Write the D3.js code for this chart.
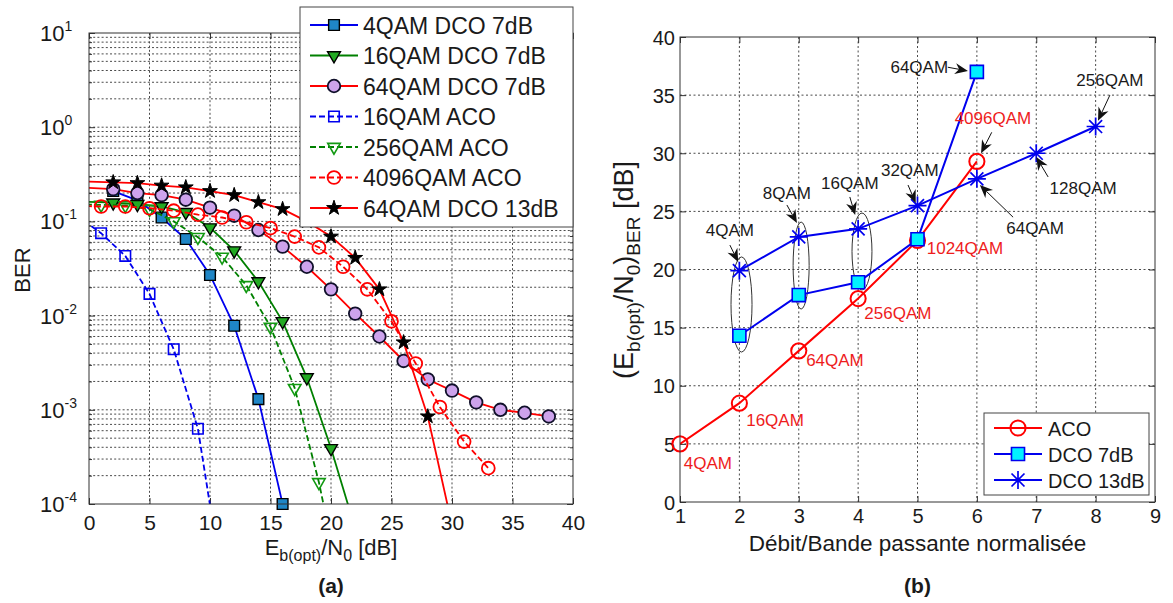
<!DOCTYPE html>
<html><head><meta charset="utf-8">
<script src="https://cdn.jsdelivr.net/npm/d3@7"></script>
<style>
body{margin:0;background:#fff}
svg{font-family:"Liberation Sans",Arial,sans-serif}
</style>
</head><body>
<svg id="c" width="1173" height="603"></svg>
<script>
// ---------------- Panel (a) data ----------------
const labelsA = ["4QAM DCO 7dB","16QAM DCO 7dB","64QAM DCO 7dB","16QAM ACO","256QAM ACO","4096QAM ACO","64QAM DCO 13dB"];
const x4qamDco = [2,4,6,8,10,12,14,16];
const y4qamDco = [0.21,0.167,0.11,0.065,0.027,0.0078,0.0013,0.0001];
const x16qamDco = [-2,2,4,6,8,10,12,14,16,18,20,22];
const y16qamDco = [0.165,0.158,0.152,0.144,0.125,0.086,0.049,0.023,0.0087,0.0022,0.00039,0.000055];
const x64qamDco = [-2,2,4,6,8,10,12,14,16,18,20,22,24,26,28,30,32,34,36,38];
const y64qamDco = [0.235,0.22,0.2,0.19,0.17,0.14,0.115,0.081,0.054,0.033,0.019,0.0105,0.006,0.0033,0.0021,0.0016,0.0012,0.001,0.00093,0.00085];
const x16qamAco = [-1,1,3,5,7,9,11];
const y16qamAco = [0.115,0.075,0.043,0.017,0.0044,0.00063,0.000015];
const x256qamAco = [-1,1,3,5,7,9,11,13,15,17,19,21];
const y256qamAco = [0.152,0.15,0.148,0.135,0.1,0.068,0.042,0.021,0.0076,0.0017,0.00017,0.00001];
const x4096qamAco = [-1,1,3,5,7,9,11,13,15,17,19,21,23,25,27,29,31,33];
const y4096qamAco = [0.146,0.144,0.144,0.138,0.13,0.118,0.11,0.098,0.085,0.069,0.053,0.033,0.019,0.0087,0.0031,0.00107,0.00046,0.00024];
const x64qamDco13 = [-2,2,4,6,8,10,12,14,16,18,20,22,24,26,28,30];
const y64qamDco13 = [0.27,0.26,0.255,0.24,0.23,0.21,0.19,0.16,0.135,0.1,0.069,0.041,0.019,0.0052,0.00085,0.00006];
const xTicksA = [0,5,10,15,20,25,30,35,40];
const yTickExpA = [-4,-3,-2,-1,0,1];

// ---------------- Panel (b) data ----------------
const labelsB = ["ACO","DCO 7dB","DCO 13dB"];
const xAco = [1,2,3,4,5,6];
const yAco = [5,8.5,13,17.5,22.5,29.3];
const xDco7 = [2,3,4,5,6];
const yDco7 = [14.3,17.8,18.9,22.6,37];
const xDco13 = [2,3,4,5,6,7,8];
const yDco13 = [19.9,22.8,23.5,25.5,27.8,30,32.3];
const xTicksB = [1,2,3,4,5,6,7,8,9];
const yTicksB = [0,5,10,15,20,25,30,35,40];
// annotations (data coordinates): text, colour key, text position, arrow from -> to
const annoText = ["64QAM","256QAM","4096QAM","128QAM","64QAM","32QAM","16QAM","8QAM","4QAM","1024QAM","256QAM","64QAM","16QAM","4QAM"];
const annoRed  = [0,0,1,0,0,0,0,0,0,1,1,1,1,1];
const annoPos  = [[5.03,37.4],[8.24,36.3],[6.27,33.0],[7.79,27.0],[6.98,23.57],[4.87,28.56],[3.86,27.44],[2.80,26.58],[1.84,23.4],[5.80,21.85],[4.67,16.26],[3.61,12.2],[2.60,7.05],[1.47,3.35]];
const annoArrow = [[5.51,37.4,5.85,37.08],[8.24,35.0,8.04,32.8],[6.25,31.8,6.07,30.0],[7.2,27.96,7.0,29.68],[6.61,24.5,6.05,27.27],[4.84,27.27,4.97,25.72],[3.86,26.24,3.95,24.69],[2.80,25.55,2.97,24.0],[1.84,22.1,1.98,20.65],null,null,null,null,null];
const ellipses = [[2.036,16.99,0.177,4.09],[3.04,20.34,0.135,3.74],[4.065,21.55,0.168,3.31]];

// ---------------- drawing ----------------
const svg = d3.select("#c");
const TXT = "#1a1a1a", AX = "#333", GRID = "#4a4a4a";
const BLUE = "#0000ee", GREEN = "#008000", RED = "#ff0000";

function zipXY(xs, ys){ return xs.map((x,i)=>({x, y: ys[i]})); }

function asteriskPath(r){
  const d = r*0.72;
  return `M${-r},0L${r},0M0,${-r}L0,${r}M${-d},${-d}L${d},${d}M${-d},${d}L${d},${-d}`;
}

function drawMarker(g, m, x, y){
  let p;
  if (m.type === "asterisk") {
    p = g.append("path").attr("d", asteriskPath(m.r)).attr("fill","none");
  } else {
    p = g.append("path").attr("d", d3.symbol(m.type, m.size)());
  }
  p.attr("transform", `translate(${x},${y})` + (m.rot ? ` rotate(${m.rot})` : ""))
   .attr("fill", m.fill || "none").attr("stroke", m.stroke).attr("stroke-width", m.sw || 1.5);
}

function arrow(g, x1, y1, x2, y2){
  const dx = x2-x1, dy = y2-y1, L = Math.hypot(dx,dy), ux = dx/L, uy = dy/L, px = -uy, py = ux;
  const hl = 13, hw = 5.5, notch = 4;
  const bx = x2-ux*hl, by = y2-uy*hl, nx = x2-ux*(hl-notch), ny = y2-uy*(hl-notch);
  g.append("line").attr("x1",x1).attr("y1",y1).attr("x2",nx).attr("y2",ny).attr("stroke","#111").attr("stroke-width",1);
  g.append("path").attr("d",`M${x2},${y2}L${bx+px*hw},${by+py*hw}L${nx},${ny}L${bx-px*hw},${by-py*hw}Z`).attr("fill","#111");
}

// ======== Panel (a) ========
const A = {x0:89, x1:573, y0:33, y1:504};
const xA = d3.scaleLinear().domain([0,40]).range([A.x0, A.x1]);
const yA = d3.scaleLog().domain([1e-4,10]).range([A.y1, A.y0]);
const gA = svg.append("g");
svg.append("defs").append("clipPath").attr("id","clipA").append("rect")
  .attr("x",A.x0).attr("y",A.y0).attr("width",A.x1-A.x0).attr("height",A.y1-A.y0);

// grid
const yGridA = yA.ticks().filter(v => v > 1.0001e-4 && v < 9.999);
gA.append("g").selectAll("line").data(yGridA).join("line")
  .attr("x1",A.x0).attr("x2",A.x1).attr("y1",d=>yA(d)).attr("y2",d=>yA(d))
  .attr("stroke",GRID).attr("stroke-width",1).attr("stroke-dasharray","2,2.2");
gA.append("g").selectAll("line").data(xTicksA.slice(1,-1)).join("line")
  .attr("x1",d=>xA(d)).attr("x2",d=>xA(d)).attr("y1",A.y0).attr("y2",A.y1)
  .attr("stroke",GRID).attr("stroke-width",1).attr("stroke-dasharray","2,2.2");

// ticks (inward)
const majorY = yTickExpA.map(e => Math.pow(10,e));
const minorY = yA.ticks().filter(v => !majorY.some(m => Math.abs(m-v)/m < 1e-6));
gA.append("g").attr("transform",`translate(0,${A.y1})`).call(d3.axisBottom(xA).tickValues(xTicksA).tickSize(-6).tickFormat(""))
  .call(g=>{g.select(".domain").remove(); g.selectAll("line").attr("stroke",AX);});
gA.append("g").attr("transform",`translate(0,${A.y0})`).call(d3.axisTop(xA).tickValues(xTicksA).tickSize(-6).tickFormat(""))
  .call(g=>{g.select(".domain").remove(); g.selectAll("line").attr("stroke",AX);});
gA.append("g").attr("transform",`translate(${A.x0},0)`).call(d3.axisLeft(yA).tickValues(majorY).tickSize(-6).tickFormat(""))
  .call(g=>{g.select(".domain").remove(); g.selectAll("line").attr("stroke",AX);});
gA.append("g").attr("transform",`translate(${A.x0},0)`).call(d3.axisLeft(yA).tickValues(minorY).tickSize(-3).tickFormat(""))
  .call(g=>{g.select(".domain").remove(); g.selectAll("line").attr("stroke",AX);});
gA.append("g").attr("transform",`translate(${A.x1},0)`).call(d3.axisRight(yA).tickValues(majorY).tickSize(-6).tickFormat(""))
  .call(g=>{g.select(".domain").remove(); g.selectAll("line").attr("stroke",AX);});
gA.append("g").attr("transform",`translate(${A.x1},0)`).call(d3.axisRight(yA).tickValues(minorY).tickSize(-3).tickFormat(""))
  .call(g=>{g.select(".domain").remove(); g.selectAll("line").attr("stroke",AX);});

// tick labels
gA.append("g").attr("transform",`translate(0,${A.y1})`).call(d3.axisBottom(xA).tickValues(xTicksA).tickSize(0).tickPadding(0))
  .call(g=>{g.select(".domain").remove(); g.selectAll("text").attr("y",26).attr("dy",null)
    .style("font-size","21px").style("font-family","'Liberation Sans',Arial,sans-serif").attr("fill",TXT);});
yTickExpA.forEach(e=>{
  const t = gA.append("text").attr("x",40).attr("y",yA(Math.pow(10,e))+8).attr("fill",TXT).style("font-size","22px");
  t.append("tspan").text("10");
  t.append("tspan").attr("dy",-10).style("font-size","14px").text(String(e));
});

// series
const seriesA = [
  {x:x4qamDco, y:y4qamDco, color:BLUE, dash:null, m:{type:d3.symbolSquare,size:115,fill:"#1f86c6",stroke:"#000",sw:1.4}},
  {x:x16qamDco, y:y16qamDco, color:GREEN, dash:null, m:{type:d3.symbolTriangle,size:72,rot:180,fill:"#22aa22",stroke:"#000",sw:1.4}},
  {x:x64qamDco, y:y64qamDco, color:RED, dash:null, m:{type:d3.symbolCircle,size:125,fill:"#cda3ec",stroke:"#10102a",sw:1.8}},
  {x:x16qamAco, y:y16qamAco, color:BLUE, dash:"6,3", m:{type:d3.symbolSquare,size:110,fill:"none",stroke:BLUE,sw:1.6}},
  {x:x256qamAco, y:y256qamAco, color:GREEN, dash:"6,3", m:{type:d3.symbolTriangle,size:68,rot:180,fill:"none",stroke:"#129a12",sw:1.6}},
  {x:x4096qamAco, y:y4096qamAco, color:RED, dash:"6,3", m:{type:d3.symbolCircle,size:130,fill:"none",stroke:RED,sw:1.8}},
  {x:x64qamDco13, y:y64qamDco13, color:RED, dash:null, m:{type:d3.symbolStar,size:68,fill:"#000",stroke:"#000",sw:1}}
];
const lineA = d3.line().x(d=>xA(d.x)).y(d=>yA(d.y));
const dataG = gA.append("g");
seriesA.forEach(s=>{
  const pts = zipXY(s.x, s.y);
  dataG.append("path").attr("d", lineA(pts)).attr("clip-path","url(#clipA)")
    .attr("fill","none").attr("stroke", s.color).attr("stroke-width",1.8)
    .attr("stroke-dasharray", s.dash);
  const mg = dataG.append("g");
  pts.filter(p => p.x >= 0 && p.x <= 40 && p.y >= 0.99e-4 && p.y <= 10)
     .forEach(p => drawMarker(mg, s.m, xA(p.x), yA(p.y)));
});

// box
gA.append("rect").attr("x",A.x0).attr("y",A.y0).attr("width",A.x1-A.x0).attr("height",A.y1-A.y0)
  .attr("fill","none").attr("stroke",AX).attr("stroke-width",1);

// legend (a)
const legA = gA.append("g");
legA.append("rect").attr("x",300).attr("y",7).attr("width",273).attr("height",220)
  .attr("fill","#fff").attr("stroke","#444").attr("stroke-width",1);
labelsA.forEach((lab,i)=>{
  const s = seriesA[i], yy = 25 + i*30.5;
  legA.append("line").attr("x1",310).attr("x2",358).attr("y1",yy).attr("y2",yy)
    .attr("stroke",s.color).attr("stroke-width",1.8).attr("stroke-dasharray",s.dash);
  drawMarker(legA, s.m, 334, yy);
  legA.append("text").attr("x",363).attr("y",yy+8.5).attr("fill",TXT).style("font-size","23px").text(lab);
});

// labels (a)
gA.append("text").attr("transform","translate(30,270) rotate(-90)").attr("text-anchor","middle")
  .attr("fill",TXT).style("font-size","22px").text("BER");
const xlA = gA.append("text").attr("x",(A.x0+A.x1)/2).attr("y",555).attr("text-anchor","middle").attr("fill",TXT).style("font-size","22px");
xlA.append("tspan").text("E");
xlA.append("tspan").attr("dy",6).style("font-size","16px").text("b(opt)");
xlA.append("tspan").attr("dy",-6).text("/N");
xlA.append("tspan").attr("dy",6).style("font-size","16px").text("0");
xlA.append("tspan").attr("dy",-6).text(" [dB]");
gA.append("text").attr("x",(A.x0+A.x1)/2).attr("y",593).attr("text-anchor","middle").attr("fill",TXT)
  .style("font-size","21px").style("font-weight","bold").text("(a)");

// ======== Panel (b) ========
const B = {x0:680, x1:1155, y0:37, y1:502};
const xB = d3.scaleLinear().domain([1,9]).range([B.x0,B.x1]);
const yB = d3.scaleLinear().domain([0,40]).range([B.y1,B.y0]);
const gB = svg.append("g");
svg.select("defs").append("clipPath").attr("id","clipB").append("rect")
  .attr("x",B.x0).attr("y",B.y0).attr("width",B.x1-B.x0).attr("height",B.y1-B.y0);

gB.append("g").selectAll("line").data(yTicksB.slice(1,-1)).join("line")
  .attr("x1",B.x0).attr("x2",B.x1).attr("y1",d=>yB(d)).attr("y2",d=>yB(d))
  .attr("stroke",GRID).attr("stroke-width",1).attr("stroke-dasharray","2,2.5");
gB.append("g").selectAll("line").data(xTicksB.slice(1,-1)).join("line")
  .attr("x1",d=>xB(d)).attr("x2",d=>xB(d)).attr("y1",B.y0).attr("y2",B.y1)
  .attr("stroke",GRID).attr("stroke-width",1).attr("stroke-dasharray","2,2.5");

[[d3.axisBottom(xB).tickValues(xTicksB), `translate(0,${B.y1})`],
 [d3.axisTop(xB).tickValues(xTicksB), `translate(0,${B.y0})`],
 [d3.axisLeft(yB).tickValues(yTicksB), `translate(${B.x0},0)`],
 [d3.axisRight(yB).tickValues(yTicksB), `translate(${B.x1},0)`]].forEach(([ax,tr])=>{
  gB.append("g").attr("transform",tr).call(ax.tickSize(-6).tickFormat(""))
    .call(g=>{g.select(".domain").remove(); g.selectAll("line").attr("stroke",AX);});
});
gB.append("g").attr("transform",`translate(0,${B.y1})`).call(d3.axisBottom(xB).tickValues(xTicksB).tickSize(0).tickPadding(0))
  .call(g=>{g.select(".domain").remove(); g.selectAll("text").attr("y",21).attr("dy",null)
    .style("font-size","20px").style("font-family","'Liberation Sans',Arial,sans-serif").attr("fill",TXT);});
gB.append("g").attr("transform",`translate(${B.x0},0)`).call(d3.axisLeft(yB).tickValues(yTicksB).tickSize(0).tickPadding(5))
  .call(g=>{g.select(".domain").remove(); g.selectAll("text").attr("dy","0.36em")
    .style("font-size","20px").style("font-family","'Liberation Sans',Arial,sans-serif").attr("fill",TXT);});

// ellipses
gB.append("g").selectAll("ellipse").data(ellipses).join("ellipse")
  .attr("cx",d=>xB(d[0])).attr("cy",d=>yB(d[1]))
  .attr("rx",d=>xB(d[0]+d[2])-xB(d[0])).attr("ry",d=>yB(d[1])-yB(d[1]+d[3]))
  .attr("fill","none").attr("stroke","#333").attr("stroke-width",1);

const seriesB = [
  {x:xAco, y:yAco, color:RED, m:{type:d3.symbolCircle,size:180,fill:"none",stroke:RED,sw:2}},
  {x:xDco7, y:yDco7, color:BLUE, m:{type:d3.symbolSquare,size:170,fill:"#00f0ff",stroke:BLUE,sw:1.6}},
  {x:xDco13, y:yDco13, color:BLUE, m:{type:"asterisk",r:9,stroke:BLUE,sw:1.7}}
];
const lineB = d3.line().x(d=>xB(d.x)).y(d=>yB(d.y));
seriesB.forEach(s=>{
  const pts = zipXY(s.x, s.y);
  gB.append("path").attr("d",lineB(pts)).attr("clip-path","url(#clipB)")
    .attr("fill","none").attr("stroke",s.color).attr("stroke-width",2);
  const mg = gB.append("g");
  pts.forEach(p => drawMarker(mg, s.m, xB(p.x), yB(p.y)));
});

gB.append("rect").attr("x",B.x0).attr("y",B.y0).attr("width",B.x1-B.x0).attr("height",B.y1-B.y0)
  .attr("fill","none").attr("stroke",AX).attr("stroke-width",1);

// annotations
const annG = gB.append("g");
annoText.forEach((t,i)=>{
  annG.append("text").attr("x",xB(annoPos[i][0])).attr("y",yB(annoPos[i][1])).attr("dy","0.36em")
    .attr("text-anchor","middle").attr("fill", annoRed[i] ? "#ee1c1c" : TXT)
    .style("font-size","17px").text(t);
  const a = annoArrow[i];
  if (a) arrow(annG, xB(a[0]), yB(a[1]), xB(a[2]), yB(a[3]));
});

// legend (b)
const legB = gB.append("g");
legB.append("rect").attr("x",984).attr("y",413).attr("width",165).attr("height",82)
  .attr("fill","#fff").attr("stroke","#444").attr("stroke-width",1);
labelsB.forEach((lab,i)=>{
  const s = seriesB[i], yy = 428 + i*26;
  legB.append("line").attr("x1",994).attr("x2",1042).attr("y1",yy).attr("y2",yy)
    .attr("stroke",s.color).attr("stroke-width",2);
  drawMarker(legB, s.m, 1018, yy);
  legB.append("text").attr("x",1048).attr("y",yy+7.5).attr("fill",TXT).style("font-size","20px").text(lab);
});

// labels (b)
gB.append("text").attr("x",(B.x0+B.x1)/2).attr("y",551).attr("text-anchor","middle").attr("fill",TXT)
  .style("font-size","22.5px").text("Débit/Bande passante normalisée");
const ylB = gB.append("text").attr("transform","translate(633,270) rotate(-90)").attr("text-anchor","middle")
  .attr("fill",TXT).style("font-size","27px");
ylB.append("tspan").text("(E");
ylB.append("tspan").attr("dy",7).style("font-size","19px").text("b(opt)");
ylB.append("tspan").attr("dy",-7).text("/N");
ylB.append("tspan").attr("dy",7).style("font-size","19px").text("0");
ylB.append("tspan").attr("dy",-7).text(")");
ylB.append("tspan").attr("dy",7).style("font-size","19px").text("BER");
ylB.append("tspan").attr("dy",-7).text(" [dB]");
gB.append("text").attr("x",(B.x0+B.x1)/2).attr("y",593).attr("text-anchor","middle").attr("fill",TXT)
  .style("font-size","21px").style("font-weight","bold").text("(b)");
</script>
</body></html>
